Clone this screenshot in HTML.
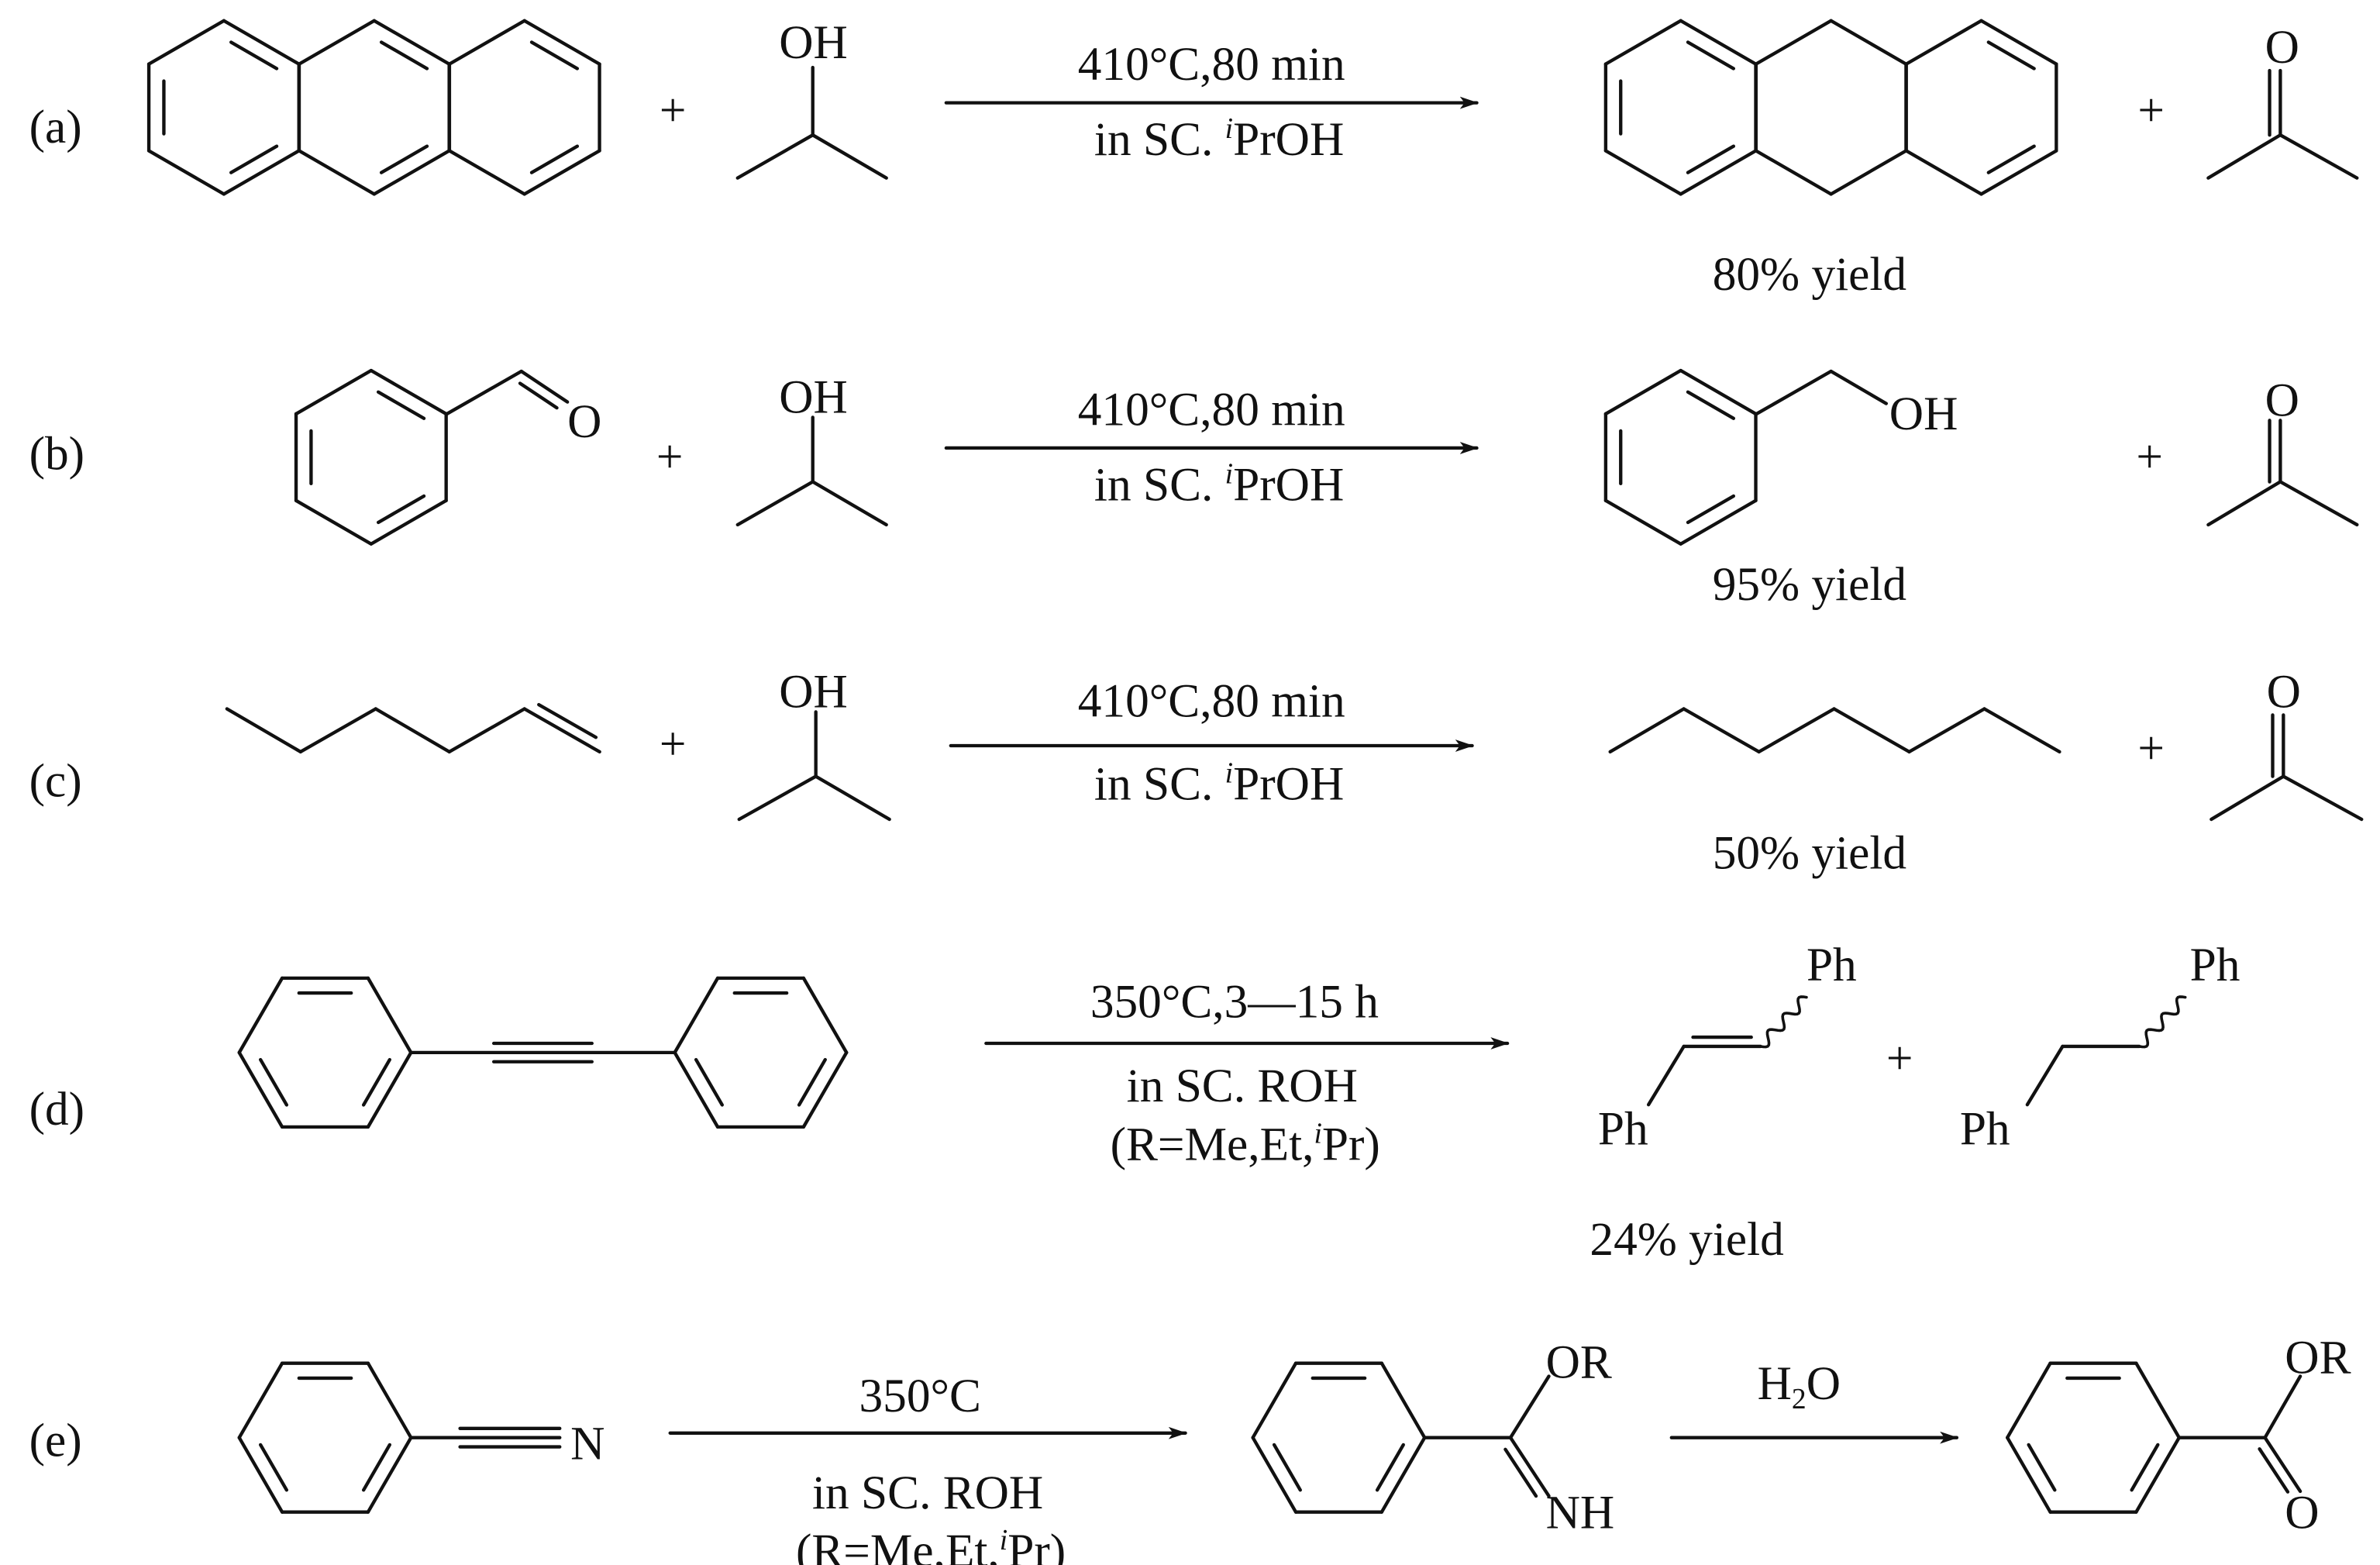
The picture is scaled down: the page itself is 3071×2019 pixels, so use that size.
<!DOCTYPE html>
<html><head><meta charset="utf-8"><style>
html,body{margin:0;padding:0;background:#fff;}
svg{display:block;}
text{font-family:"Liberation Serif",serif;fill:#111;}
</style></head><body>
<svg id="s" width="3071" height="2019" viewBox="0 0 1552 1020" preserveAspectRatio="none" xmlns="http://www.w3.org/2000/svg">
<defs><marker id="ah" markerWidth="12" markerHeight="8" refX="11" refY="4" orient="auto" markerUnits="userSpaceOnUse"><path d="M0,0 L12,4 L0,8 L3,4 Z" fill="#111"/></marker></defs>
<g id="g" stroke="#111" stroke-width="2.2" fill="none" stroke-linecap="round" stroke-linejoin="miter"></g>
<g font-size="31">
<text x="19" y="93">(a)</text>
<text x="430" y="82">+</text>
<text x="508" y="38">OH</text>
<text x="790" y="52" text-anchor="middle">410°C,80 min</text>
<text x="795" y="101" text-anchor="middle">in SC. <tspan font-size="19" dy="-11" font-style="italic">i</tspan><tspan dy="11">PrOH</tspan></text>
<text x="1394" y="82">+</text>
<text x="1477" y="41">O</text>
<text x="1180" y="189" text-anchor="middle">80% yield</text>

<text x="19" y="306">(b)</text>
<text x="370" y="285">O</text>
<text x="428" y="308">+</text>
<text x="508" y="269">OH</text>
<text x="790" y="277" text-anchor="middle">410°C,80 min</text>
<text x="795" y="326" text-anchor="middle">in SC. <tspan font-size="19" dy="-11" font-style="italic">i</tspan><tspan dy="11">PrOH</tspan></text>
<text x="1232" y="280">OH</text>
<text x="1393" y="308">+</text>
<text x="1477" y="271">O</text>
<text x="1180" y="391" text-anchor="middle">95% yield</text>

<text x="19" y="519">(c)</text>
<text x="430" y="495">+</text>
<text x="508" y="461">OH</text>
<text x="790" y="467" text-anchor="middle">410°C,80 min</text>
<text x="795" y="521" text-anchor="middle">in SC. <tspan font-size="19" dy="-11" font-style="italic">i</tspan><tspan dy="11">PrOH</tspan></text>
<text x="1394" y="498">+</text>
<text x="1478" y="461">O</text>
<text x="1180" y="566" text-anchor="middle">50% yield</text>

<text x="19" y="733">(d)</text>
<text x="805" y="663" text-anchor="middle">350°C,3—15 h</text>
<text x="810" y="718" text-anchor="middle">in SC. ROH</text>
<text x="812" y="756" text-anchor="middle">(R=Me,Et,<tspan font-size="19" dy="-11" font-style="italic">i</tspan><tspan dy="11">Pr)</tspan></text>
<text x="1178" y="639">Ph</text>
<text x="1042" y="746">Ph</text>
<text x="1230" y="700">+</text>
<text x="1428" y="639">Ph</text>
<text x="1278" y="746">Ph</text>
<text x="1100" y="818" text-anchor="middle">24% yield</text>

<text x="19" y="949">(e)</text>
<text x="372" y="951">N</text>
<text x="600" y="920" text-anchor="middle">350°C</text>
<text x="605" y="983" text-anchor="middle">in SC. ROH</text>
<text x="607" y="1021" text-anchor="middle">(R=Me,Et,<tspan font-size="19" dy="-11" font-style="italic">i</tspan><tspan dy="11">Pr)</tspan></text>
<text x="1008" y="898">OR</text>
<text x="1008" y="996">NH</text>
<text x="1146" y="912">H<tspan font-size="19" dy="6">2</tspan><tspan dy="-6">O</tspan></text>
<text x="1490" y="895">OR</text>
<text x="1490" y="996">O</text>
</g>
</svg>
<script>
var g=document.getElementById('g'),NS='http://www.w3.org/2000/svg';
function L(x1,y1,x2,y2){var e=document.createElementNS(NS,'line');e.setAttribute('x1',x1);e.setAttribute('y1',y1);e.setAttribute('x2',x2);e.setAttribute('y2',y2);g.appendChild(e);return e;}
function P(pts){for(var i=0;i<pts.length-1;i++)L(pts[i][0],pts[i][1],pts[i+1][0],pts[i+1][1]);}
function hex(cx,cy,r,flat,dbl){var v=[];for(var i=0;i<6;i++){var a=(flat?0:-90)+60*i;a*=Math.PI/180;v.push([cx+r*Math.cos(a),cy+r*Math.sin(a)]);}
for(var i=0;i<6;i++){var a=v[i],b=v[(i+1)%6];L(a[0],a[1],b[0],b[1]);}
(dbl||[]).forEach(function(i){var a=v[i],b=v[(i+1)%6],k=0.2;
var a2=[a[0]+(cx-a[0])*k,a[1]+(cy-a[1])*k],b2=[b[0]+(cx-b[0])*k,b[1]+(cy-b[1])*k];
var t=0.12;L(a2[0]+(b2[0]-a2[0])*t,a2[1]+(b2[1]-a2[1])*t,b2[0]-(b2[0]-a2[0])*t,b2[1]-(b2[1]-a2[1])*t);});return v;}
function dblOff(x1,y1,x2,y2,d,t){var dx=x2-x1,dy=y2-y1,l=Math.hypot(dx,dy),nx=-dy/l*d,ny=dx/l*d;t=t||0;L(x1+nx+dx*t,y1+ny+dy*t,x2+nx-dx*t,y2+ny-dy*t);}
function arrow(x1,x2,y){L(x1,y,x2,y).setAttribute('marker-end','url(#ah)');}
function wavy(x1,y1,x2,y2){var dx=x2-x1,dy=y2-y1,l=Math.hypot(dx,dy),n=[-dy/l,dx/l],d='M'+x1+','+y1;
for(var i=1;i<=40;i++){var t=i/40,s=Math.sin(t*Math.PI*6)*3.5;d+=' L'+(x1+dx*t+n[0]*s)+','+(y1+dy*t+n[1]*s);}
var e=document.createElementNS(NS,'path');e.setAttribute('d',d);e.setAttribute('stroke-width','1.8');g.appendChild(e);}
var r=56.5;
// (a)
hex(146,70,r,false,[4,0,2]);hex(244,70,r,false,[0,2]);hex(342,70,r,false,[0,2]);
P([[481,116],[530,88],[578,116]]);L(530,88,530,44);
arrow(617,963,67);
hex(1096,70,r,false,[4,0,2]);hex(1194,70,r,false,[]);hex(1292,70,r,false,[0,2]);
P([[1440,116],[1487,88],[1537,116]]);L(1487,88,1487,46);L(1480,88,1480,46);
// (b)
hex(242,298,r,false,[4,0,2]);
P([[291,270],[340,242],[370,262]]);dblOff(340,242,370,262,7,0.1);
P([[481,342],[530,314],[578,342]]);L(530,314,530,272);
arrow(617,963,292);
hex(1096,298,r,false,[4,0,2]);P([[1145,270],[1194,242],[1230,263]]);
P([[1440,342],[1487,314],[1537,342]]);L(1487,314,1487,274);L(1480,314,1480,274);
// (c)
P([[148,462],[196,490],[245,462],[293,490],[342,462],[391,490]]);dblOff(342,462,391,490,-7,0.12);
P([[482,534],[532,506],[580,534]]);L(532,506,532,464);
arrow(620,960,486);
P([[1050,490],[1098,462],[1147,490],[1196,462],[1245,490],[1294,462],[1343,490]]);
P([[1442,534],[1489,506],[1540,534]]);L(1489,506,1489,466);L(1482,506,1482,466);
// (d)
hex(212,686,56,true,[4,0,2]);hex(496,686,56,true,[4,0,2]);
L(268,686,440,686);L(322,680,386,680);L(322,692,386,692);
arrow(643,983,680);
P([[1075,720],[1098,682],[1148,682]]);L(1104,676,1142,676);wavy(1148,682,1178,650);
P([[1322,720],[1345,682],[1395,682]]);wavy(1395,682,1425,650);
// (e)
hex(212,937,56,true,[4,0,2]);
L(268,937,365,937);L(300,931,365,931);L(300,943,365,943);
arrow(437,773,934);
hex(873,937,56,true,[4,0,2]);
L(929,937,985,937);L(985,937,1010,897);L(985,937,1010,975);dblOff(985,937,1010,975,7,0.1);
arrow(1090,1276,937);
hex(1365,937,56,true,[4,0,2]);
L(1421,937,1477,937);L(1477,937,1500,897);L(1477,937,1500,972);dblOff(1477,937,1500,972,7,0.1);
</script>
</body></html>
